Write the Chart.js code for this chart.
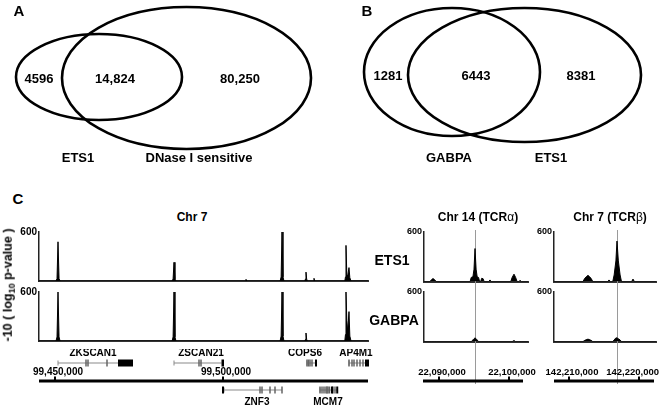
<!DOCTYPE html>
<html><head><meta charset="utf-8">
<script src="https://cdn.jsdelivr.net/npm/chart.js@4"></script>
<style>
html,body{margin:0;padding:0;background:#fff;}
body{width:661px;height:409px;position:relative;overflow:hidden;font-family:"Liberation Sans",Arial,Helvetica,sans-serif;}
canvas{position:absolute;}
.t{position:absolute;font-weight:bold;color:#000;white-space:nowrap;transform:translate(-50%,-50%);line-height:1;}
.rot{transform:translate(-50%,-50%) rotate(-90deg);}
sub{font-size:9px;vertical-align:-3px;line-height:0;}
</style></head><body>
<canvas id="venn" width="661" height="185" style="left:0;top:0"></canvas>
<canvas id="c7e" width="370" height="65" style="left:0;top:224px"></canvas>
<canvas id="c7g" width="370" height="65" style="left:0;top:284px"></canvas>
<canvas id="c7a" width="382" height="60" style="left:0;top:349px"></canvas>
<canvas id="c14e" width="130" height="65" style="left:400px;top:224px"></canvas>
<canvas id="c14g" width="130" height="65" style="left:400px;top:284px"></canvas>
<canvas id="c14a" width="140" height="60" style="left:400px;top:349px"></canvas>
<canvas id="cbe" width="128" height="65" style="left:530px;top:224px"></canvas>
<canvas id="cbg" width="128" height="65" style="left:530px;top:284px"></canvas>
<canvas id="cba" width="131" height="60" style="left:530px;top:349px"></canvas>

<div class="t" style="left:19px;top:10px;font-size:15px">A</div>
<div class="t" style="left:367px;top:10px;font-size:15px">B</div>
<div class="t" style="left:18px;top:198px;font-size:15px">C</div>
<div class="t" style="left:192px;top:217px;font-size:12px">Chr 7</div>
<div class="t" style="left:478px;top:217px;font-size:12px">Chr 14 (TCR<span style="font-weight:normal">α</span>)</div>
<div class="t" style="left:610px;top:217px;font-size:12px">Chr 7 (TCR<span style="font-weight:normal">β</span>)</div>
<div class="t" style="left:392px;top:260px;font-size:14px">ETS1</div>
<div class="t" style="left:394px;top:320px;font-size:14px">GABPA</div>
<div class="t rot" style="left:8px;top:285px;font-size:12.5px">-10 ( log<sub>10</sub> p-value )</div>

<script>
// ---------------- DATA ----------------
// Venn A
const vennASets = ['ETS1', 'DNase I sensitive'];
const vennACounts = [4596, 14824, 80250];
// Venn B
const vennBSets = ['GABPA', 'ETS1'];
const vennBCounts = [1281, 6443, 8381];

// Chr 7 locus (ZKSCAN1 ... AP4M1)
const chr7Range = [99445238, 99543155];
const chr7Ticks = [99450000, 99500000];
const chr7Pos   = [99445238,99450300,99450600,99450893,99451200,99451500,99484850,99485150,99485417,99485700,99486000,99506600,99506845,99507100,99517000,99517300,99517560,99517850,99518150,99524350,99524550,99524702,99524900,99525100,99526850,99527083,99527300,99536250,99536450,99536607,99536850,99537100,99537500,99537750,99538100,99543155];
const chr7Ets1  = [0,0,30,480,30,0, 0,25,229,25,0, 0,20,0, 0,50,600,50,0, 0,25,109,25,0, 0,33,0, 0,50,436,80,60,164,40,0, 0];
const chr7Gabpa = [0,0,50,600,50,0, 0,50,600,50,0, 0,0,0, 0,60,600,60,0, 0,20,98,20,0, 0,0,0, 0,80,600,250,120,360,60,0, 0];

// Chr 14 (TCRalpha) locus
const chr14Range = [22087857, 22102714];
const chr14Ticks = [22090000, 22100000];
const chr14Bar   = [22087714, 22102000];
const chr14Mark  = 22095143;
const chr14Pos   = [22087857,22088700,22088950,22089143,22089350,22089600,22094450,22094600,22094850,22095000,22095143,22095300,22095450,22095650,22095800,22095950,22096100,22096300,22096450,22097100,22097286,22097450,22100250,22100450,22100714,22100950,22101150,22101400,22101571,22101750,22102714];
const chr14Ets1  = [0,0,25,36,25,0, 0,50,60,150,400,150,60,50,0, 0,40,35,0, 0,20,0, 0,50,90,50,0, 0,15,0, 0];
const chr14Gabpa = [0,0,0,0,0,0, 0,0,20,35,45,35,20,0,0, 0,0,0,0, 0,0,0, 0,0,12,0,0, 0,0,0, 0];

// Chr 7 (TCRbeta) locus
const tcrbRange = [142207857, 142222429];
const tcrbTicks = [142210000, 142220000];
const tcrbBar   = [142207857, 142222143];
const tcrbMark  = 142216857;
const tcrbPos   = [142207857,142212000,142212250,142212714,142213150,142213400,142215550,142215714,142215900,142216250,142216450,142216700,142216857,142217050,142217300,142217500,142218950,142219143,142219350,142222429];
const tcrbEts1  = [0,0,40,76,40,0, 0,20,0, 0,80,250,490,250,80,0, 0,30,0, 0];
const tcrbGabpa = [0,0,15,30,15,0, 0,0,0, 0,20,45,45,35,20,0, 0,0,0, 0];

// Gene models (Chr 7 locus)
const geneNames   = ['ZKSCAN1','ZSCAN21','COPS6','AP4M1','ZNF3','MCM7'];
const geneRow     = ['above','above','above','above','below','below'];
const geneStart   = [99450893, 99485417, 99525000, 99537500, 99500298, 99528869];
const geneEnd     = [99468750, 99499554, 99527976, 99543155, 99517560, 99533929];
const geneLabelAt = [99461310, 99493452, 99524405, 99539583, 99510119, 99531250];
const geneExons   = [
  [99459226, 99459821, 99465476],
  [99492857, 99493452],
  [99525000, 99525446, 99525893, 99526488],
  [99537500, 99538393, 99538988, 99539881, 99540774, 99541667],
  [99511012, 99511607, 99513988, 99515476, 99517560],
  [99528869, 99529464, 99530060, 99530655, 99530952, 99531250, 99531696, 99532738, 99533333]
];
const geneBlocks  = [
  [[99468750, 99473214]],
  [[99499554, 99500298]],
  [[99527381, 99527976]],
  [[99542262, 99542600], [99542857, 99543155]],
  [[99499702, 99500298]],
  [[99532143, 99532500], [99533700, 99533929]]
];

// ---------------- RENDERING ----------------
const FONT = '"Liberation Sans", Arial, Helvetica, sans-serif';
const fmtCount = n => n >= 10000 ? n.toLocaleString('en-US') : String(n);

const vennLayout = [
  {sets: vennASets, counts: vennACounts,
   ellipses: [{cx:99, cy:77, rx:83, ry:43}, {cx:186.5, cy:78, rx:124.5, ry:71}],
   countPos: [[39,79],[115,79],[240,79]], setPos: [[78,158],[199,158]]},
  {sets: vennBSets, counts: vennBCounts,
   ellipses: [{cx:452, cy:72, rx:88, ry:64}, {cx:524.5, cy:75, rx:116.5, ry:67}],
   countPos: [[388,76],[476,76],[581,76]], setPos: [[449,158],[551,158]]}
];

const vennPlugin = {
  id: 'venn',
  afterDraw(chart) {
    const {ctx, scales: {x, y}} = chart;
    ctx.save();
    ctx.strokeStyle = '#000';
    ctx.lineWidth = 2.6;
    ctx.fillStyle = '#000';
    ctx.textAlign = 'center';
    ctx.textBaseline = 'middle';
    ctx.font = 'bold 13px ' + FONT;
    vennLayout.forEach(v => {
      v.ellipses.forEach(e => {
        const cx = x.getPixelForValue(e.cx), cy = y.getPixelForValue(e.cy);
        const rx = Math.abs(x.getPixelForValue(e.cx + e.rx) - cx);
        const ry = Math.abs(y.getPixelForValue(e.cy + e.ry) - cy);
        ctx.beginPath();
        ctx.ellipse(cx, cy, rx, ry, 0, 0, Math.PI * 2);
        ctx.stroke();
      });
      v.counts.forEach((c, i) => {
        ctx.fillText(fmtCount(c), x.getPixelForValue(v.countPos[i][0]), y.getPixelForValue(v.countPos[i][1]));
      });
      v.sets.forEach((s, i) => {
        ctx.fillText(s, x.getPixelForValue(v.setPos[i][0]), y.getPixelForValue(v.setPos[i][1]));
      });
    });
    ctx.restore();
  }
};

new Chart(document.getElementById('venn'), {
  type: 'scatter',
  data: {datasets: []},
  options: {
    responsive: false, animation: false, events: [],
    layout: {padding: 0},
    plugins: {legend: {display: false}, tooltip: {enabled: false}},
    scales: {
      x: {type: 'linear', min: 0, max: 661, display: false},
      y: {type: 'linear', min: 0, max: 185, reverse: true, display: false}
    }
  },
  plugins: [vennPlugin]
});

const markerPlugin = {
  id: 'marker',
  beforeDatasetsDraw(chart, args, opts) {
    if (opts.value === undefined || opts.value === null) return;
    const {ctx, chartArea: ca, scales: {x}} = chart;
    const px = Math.round(x.getPixelForValue(opts.value)) + 0.5;
    const y0 = opts.from === 'area' ? ca.top - 2 : 0;
    const y1 = typeof opts.to === 'number' ? opts.to : chart.height;
    ctx.save();
    ctx.strokeStyle = '#9a9a9a';
    ctx.lineWidth = 1;
    ctx.beginPath();
    ctx.moveTo(px, y0);
    ctx.lineTo(px, y1);
    ctx.stroke();
    ctx.restore();
  }
};

function makeTrack(id, range, pos, vals, axisW, tickSize, mark, from) {
  return new Chart(document.getElementById(id), {
    type: 'line',
    data: {datasets: [{
      data: pos.map((p, i) => ({x: p, y: vals[i]})),
      fill: 'origin', backgroundColor: '#000', borderColor: '#000',
      borderWidth: 1, pointRadius: 0, tension: 0
    }]},
    options: {
      responsive: false, animation: false, events: [],
      layout: {padding: {top: 8, right: 2, bottom: 2, left: 0}},
      plugins: {legend: {display: false}, tooltip: {enabled: false},
                marker: {value: mark, from: from}},
      scales: {
        x: {type: 'linear', min: range[0], max: range[1],
            ticks: {display: false}, grid: {display: false, drawTicks: false},
            border: {display: true, color: '#333', width: 2},
            afterFit(s) { s.height = 0; }},
        y: {type: 'linear', min: 0, max: 600,
            afterFit(s) { s.width = axisW; },
            ticks: {stepSize: 600, autoSkip: false, padding: 2, color: '#000',
                    callback: v => v === 600 ? '600' : '',
                    font: {family: FONT, size: tickSize, weight: 'bold'}},
            grid: {display: false, drawTicks: false},
            border: {display: true, color: '#222', width: 1.5}}
      }
    },
    plugins: [markerPlugin]
  });
}

const annotPlugin = {
  id: 'annot',
  afterDraw(chart, args, opts) {
    const {ctx, scales: {x}} = chart;
    ctx.save();
    ctx.fillStyle = '#000';
    // coordinate bar
    const b0 = x.getPixelForValue(opts.bar[0]), b1 = x.getPixelForValue(opts.bar[1]);
    ctx.fillRect(b0, 30.5, b1 - b0, 3);
    ctx.font = 'bold ' + opts.fontSize + 'px ' + FONT;
    ctx.textAlign = 'center';
    ctx.textBaseline = 'middle';
    opts.ticks.forEach(t => {
      const px = x.getPixelForValue(t);
      ctx.fillRect(px - 1, 27.5, 2, 4);
      const label = t.toLocaleString('en-US');
      const w = ctx.measureText(label).width;
      let cx = px + 3;
      if (cx + w / 2 > chart.width - 2) cx = chart.width - 2 - w / 2;
      ctx.fillText(label, cx, 23);
    });
    // genes
    if (opts.genes) {
      ctx.font = 'bold 10px ' + FONT;
      geneNames.forEach((name, i) => {
        const gy = geneRow[i] === 'above' ? 14 : 41;
        const ly = geneRow[i] === 'above' ? 4.5 : 53;
        const s = x.getPixelForValue(geneStart[i]), e = x.getPixelForValue(geneEnd[i]);
        ctx.fillStyle = '#8a8a8a';
        ctx.fillRect(s, gy - 0.5, e - s, 1);
        ctx.fillRect(s - 0.5, gy - 2.5, 1, 5);
        geneExons[i].forEach(p => {
          const px = x.getPixelForValue(p);
          ctx.fillStyle = '#666';
          ctx.fillRect(px - 0.75, gy - 3.5, 1.5, 7);
        });
        ctx.fillStyle = '#000';
        geneBlocks[i].forEach(bk => {
          const p0 = x.getPixelForValue(bk[0]), p1 = x.getPixelForValue(bk[1]);
          ctx.fillRect(p0, gy - 3.5, Math.max(p1 - p0, 2), 7);
        });
        ctx.fillStyle = '#000';
        ctx.fillText(name, x.getPixelForValue(geneLabelAt[i]), ly);
      });
    }
    ctx.restore();
  }
};

function makeAnnot(id, range, leftPad, rightPad, bar, ticks, mark, genes, fontSize) {
  return new Chart(document.getElementById(id), {
    type: 'line',
    data: {datasets: []},
    options: {
      responsive: false, animation: false, events: [],
      layout: {padding: {top: 0, right: rightPad, bottom: 0, left: leftPad}},
      plugins: {legend: {display: false}, tooltip: {enabled: false},
                marker: {value: mark, from: 'canvas', to: 35},
                annot: {bar: bar, ticks: ticks, genes: genes, fontSize: fontSize}},
      scales: {
        x: {type: 'linear', min: range[0], max: range[1], display: false},
        y: {type: 'linear', min: 0, max: 1, display: false}
      }
    },
    plugins: [markerPlugin, annotPlugin]
  });
}

// Chr 7
makeTrack('c7e', chr7Range, chr7Pos, chr7Ets1, 39, 10, null, 'area');
makeTrack('c7g', chr7Range, chr7Pos, chr7Gabpa, 39, 10, null, 'canvas');
makeAnnot('c7a', chr7Range, 39, 14, chr7Range, chr7Ticks, null, true, 10);
// Chr 14 TCRa
makeTrack('c14e', chr14Range, chr14Pos, chr14Ets1, 24, 9, chr14Mark, 'area');
makeTrack('c14g', chr14Range, chr14Pos, chr14Gabpa, 24, 9, chr14Mark, 'canvas');
makeAnnot('c14a', chr14Range, 24, 12, chr14Bar, chr14Ticks, chr14Mark, false, 9.5);
// Chr 7 TCRb
makeTrack('cbe', tcrbRange, tcrbPos, tcrbEts1, 24, 9, tcrbMark, 'area');
makeTrack('cbg', tcrbRange, tcrbPos, tcrbGabpa, 24, 9, tcrbMark, 'canvas');
makeAnnot('cba', tcrbRange, 24, 5, tcrbBar, tcrbTicks, tcrbMark, false, 9.5);
</script>
</body></html>
